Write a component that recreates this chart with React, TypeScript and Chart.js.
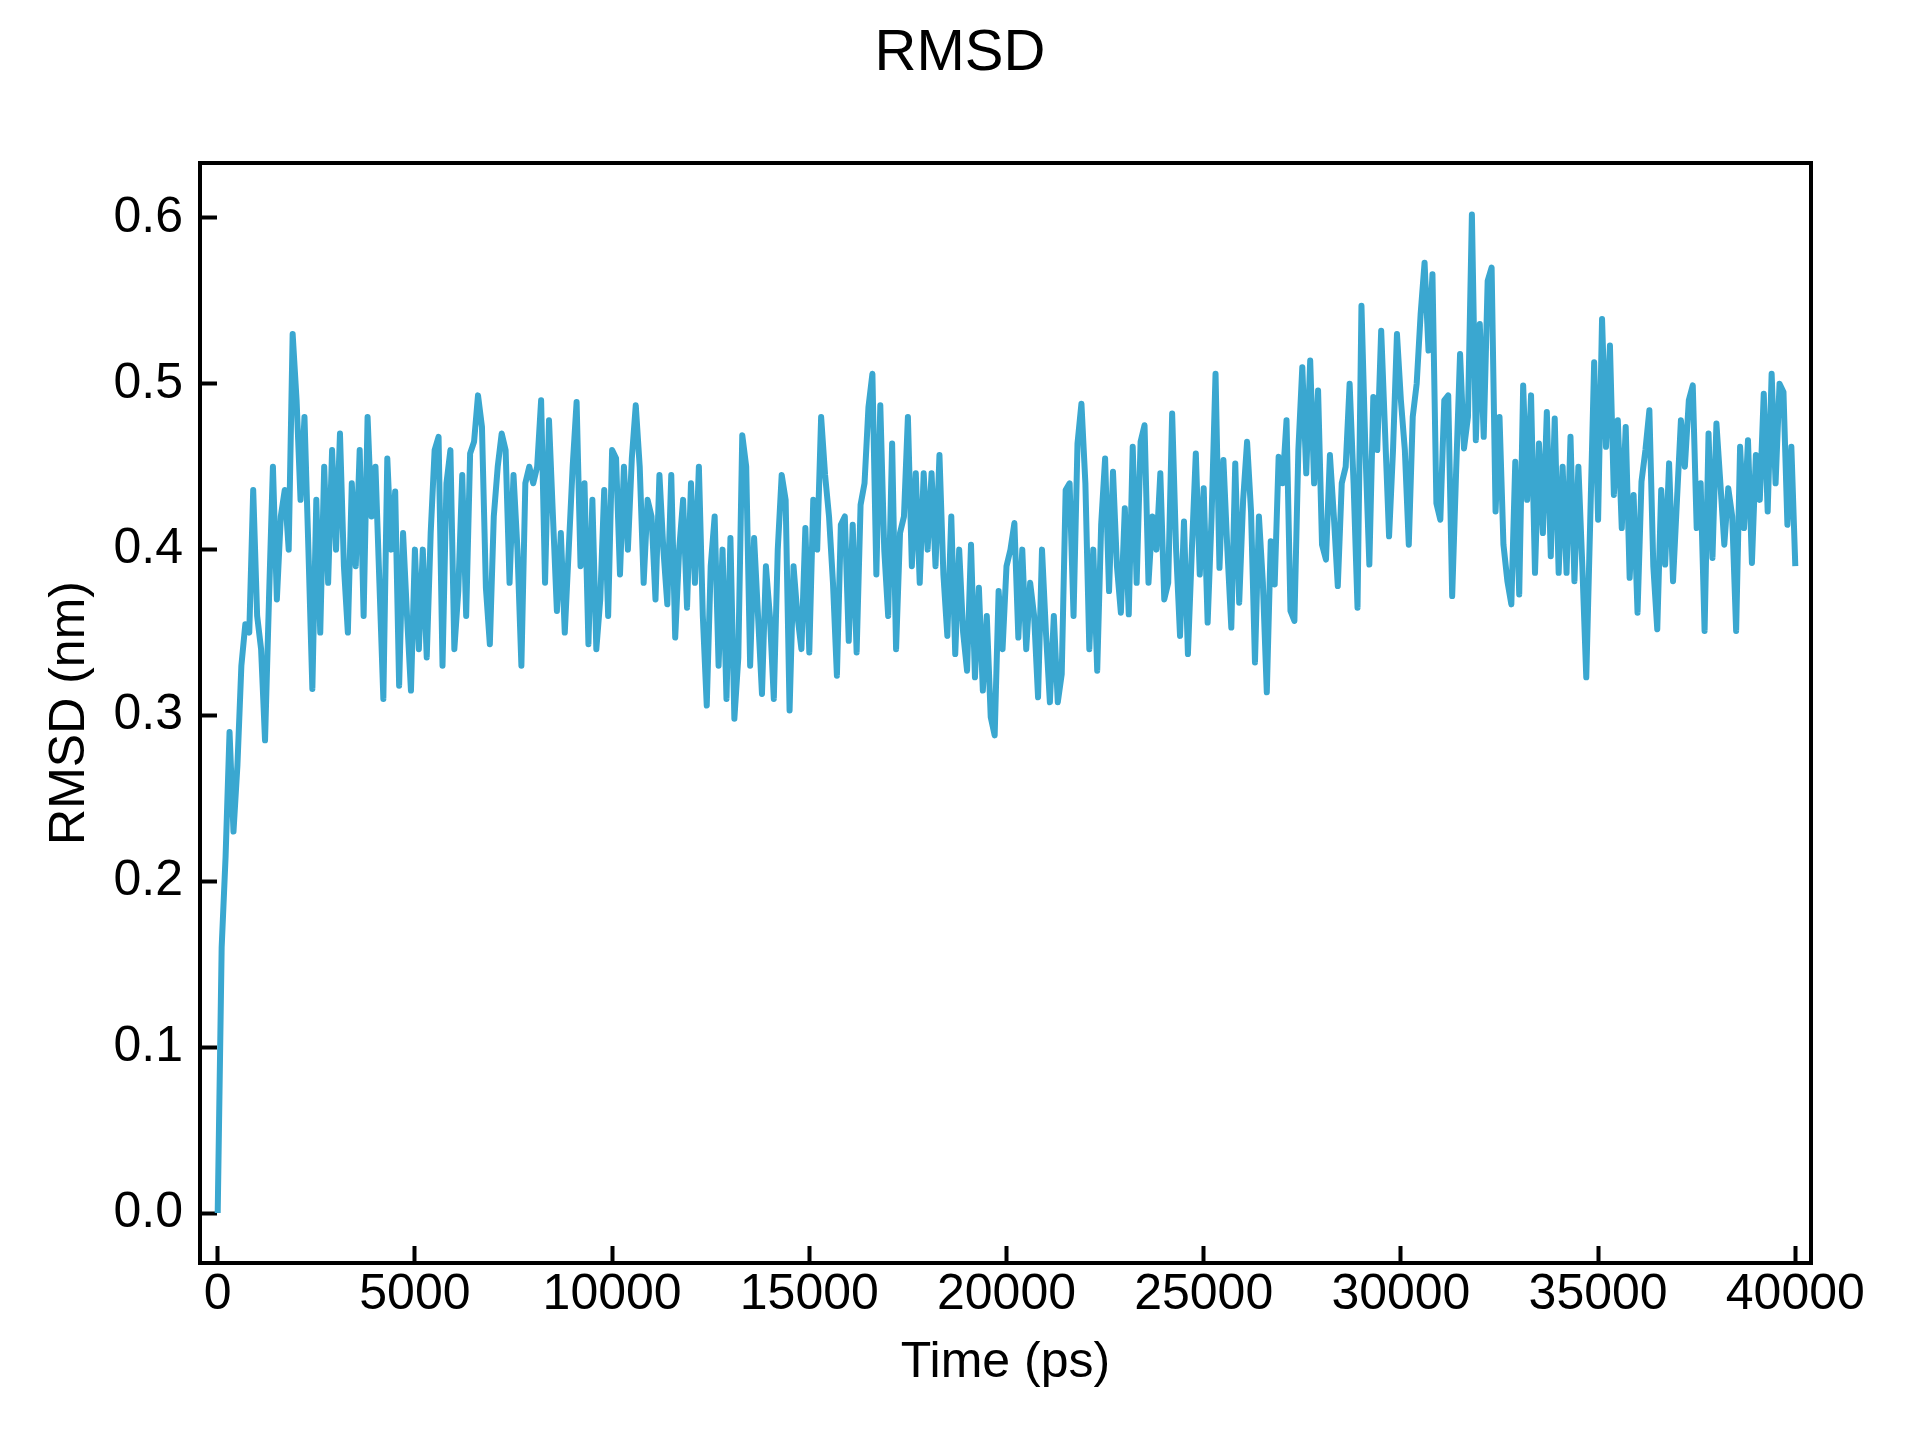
import React, { useEffect, useRef } from "react";
import { Chart, registerables } from "chart.js";

Chart.register(...registerables);

// Sampling interval of the trajectory (ps)
const TIME_STEP_PS = 100;

// RMSD values (nm), one every 100 ps from 0 to 40000 ps
const RMSD_0_7900 = [
  0.0, 0.16, 0.215, 0.29, 0.23, 0.27, 0.33, 0.355, 0.35, 0.436,
  0.36, 0.34, 0.285, 0.37, 0.45, 0.37, 0.42, 0.436, 0.40, 0.53,
  0.49, 0.43, 0.48, 0.40, 0.316, 0.43, 0.35, 0.45, 0.38, 0.46,
  0.40, 0.47, 0.39, 0.35, 0.44, 0.39, 0.46, 0.36, 0.48, 0.42,
  0.45, 0.38, 0.31, 0.455, 0.40, 0.435, 0.318, 0.41, 0.36, 0.315,
  0.40, 0.34, 0.40, 0.335, 0.41, 0.46, 0.468, 0.33, 0.44, 0.46,
  0.34, 0.375, 0.445, 0.36, 0.458, 0.465, 0.493, 0.474, 0.377, 0.343,
  0.42, 0.45, 0.47, 0.46, 0.38, 0.445, 0.40, 0.33, 0.44, 0.45,
];
const RMSD_8000_16000 = [
  0.44, 0.45, 0.49, 0.38, 0.478, 0.42, 0.363, 0.41, 0.35, 0.40,
  0.45, 0.489, 0.39, 0.44, 0.343, 0.43, 0.34, 0.37, 0.436, 0.36,
  0.46, 0.455, 0.385, 0.45, 0.40, 0.455, 0.487, 0.45, 0.38, 0.43,
  0.42, 0.37, 0.445, 0.40, 0.367, 0.445, 0.347, 0.40, 0.43, 0.365,
  0.44, 0.38, 0.45, 0.36, 0.306, 0.39, 0.42, 0.33, 0.40, 0.31,
  0.407, 0.298, 0.335, 0.469, 0.45, 0.33, 0.407, 0.36, 0.313, 0.39,
  0.36, 0.31, 0.40, 0.445, 0.43, 0.303, 0.39, 0.36, 0.34, 0.413,
  0.338, 0.43, 0.40, 0.48, 0.445, 0.42, 0.38, 0.324, 0.415, 0.42,
  0.345,
];
const RMSD_16100_24000 = [
  0.415, 0.338, 0.427, 0.44, 0.486, 0.506, 0.385, 0.487, 0.40, 0.36,
  0.464, 0.34, 0.41, 0.42, 0.48, 0.39, 0.446, 0.38, 0.446, 0.40,
  0.446, 0.39, 0.457, 0.385, 0.348, 0.42, 0.337, 0.40, 0.35, 0.327,
  0.403, 0.323, 0.377, 0.315, 0.36, 0.299, 0.288, 0.375, 0.34, 0.39,
  0.40, 0.416, 0.347, 0.40, 0.34, 0.38, 0.36, 0.311, 0.40, 0.35,
  0.308, 0.36, 0.308, 0.325, 0.436, 0.44, 0.36, 0.464, 0.488, 0.44,
  0.34, 0.40, 0.327, 0.415, 0.455, 0.375, 0.447, 0.39, 0.362, 0.425,
  0.361, 0.462, 0.38, 0.465, 0.475, 0.38, 0.42, 0.40, 0.446, 0.37,
];
const RMSD_24100_32000 = [
  0.38, 0.482, 0.40, 0.348, 0.417, 0.337, 0.40, 0.458, 0.385, 0.437,
  0.356, 0.42, 0.506, 0.389, 0.454, 0.40, 0.353, 0.452, 0.368, 0.43,
  0.465, 0.423, 0.332, 0.42, 0.38, 0.314, 0.405, 0.379, 0.456, 0.44,
  0.478, 0.363, 0.357, 0.46, 0.51, 0.446, 0.514, 0.44, 0.496, 0.403,
  0.394, 0.457, 0.42, 0.378, 0.44, 0.45, 0.50, 0.44, 0.365, 0.547,
  0.46, 0.391, 0.492, 0.46, 0.532, 0.47, 0.408, 0.46, 0.53, 0.49,
  0.46, 0.403, 0.48, 0.50, 0.542, 0.573, 0.52, 0.566, 0.428, 0.418,
  0.49, 0.493, 0.372, 0.447, 0.518, 0.461, 0.48, 0.602, 0.466, 0.536,
];
const RMSD_32100_40000 = [
  0.468, 0.562, 0.57, 0.423, 0.48, 0.403, 0.381, 0.367, 0.453, 0.373,
  0.499, 0.43, 0.493, 0.386, 0.464, 0.41, 0.483, 0.396, 0.479, 0.386,
  0.45, 0.386, 0.468, 0.381, 0.45, 0.39, 0.323, 0.417, 0.513, 0.418,
  0.539, 0.462, 0.523, 0.433, 0.478, 0.413, 0.474, 0.383, 0.433, 0.362,
  0.441, 0.46, 0.484, 0.39, 0.352, 0.436, 0.391, 0.452, 0.381, 0.43,
  0.478, 0.45, 0.49, 0.499, 0.413, 0.44, 0.351, 0.47, 0.395, 0.476,
  0.44, 0.403, 0.437, 0.42, 0.351, 0.462, 0.413, 0.466, 0.392, 0.457,
  0.43, 0.494, 0.423, 0.506, 0.44, 0.5, 0.495, 0.415, 0.462, 0.39,
];

const RMSD_NM = [
  ...RMSD_0_7900,
  ...RMSD_8000_16000,
  ...RMSD_16100_24000,
  ...RMSD_24100_32000,
  ...RMSD_32100_40000,
];
const TIME_PS = RMSD_NM.map((_, i) => i * TIME_STEP_PS);

const TITLE = "RMSD";
const X_LABEL = "Time (ps)";
const Y_LABEL = "RMSD (nm)";
const X_TICKS = [0, 5000, 10000, 15000, 20000, 25000, 30000, 35000, 40000];
const Y_TICKS = [0.0, 0.1, 0.2, 0.3, 0.4, 0.5, 0.6];

const FONT = "'Liberation Sans', Arial, Helvetica, sans-serif";
const LINE_COLOR = "#3aa7d0";

const framePlugin = {
  id: "frame",
  afterDraw(chart: any) {
    const { ctx, chartArea } = chart;
    const { left, right, top, bottom } = chartArea;
    ctx.save();
    ctx.strokeStyle = "#000";
    ctx.lineWidth = 4;
    ctx.lineCap = "square";
    ctx.beginPath();
    ctx.moveTo(left, top);
    ctx.lineTo(right, top);
    ctx.lineTo(right, bottom);
    ctx.stroke();
    ctx.restore();
  },
};

export default function App() {
  const canvasRef = useRef<HTMLCanvasElement | null>(null);

  useEffect(() => {
    const canvas = canvasRef.current;
    if (!canvas) return;
    const titleLine = 58 * 1.2;
    const chart = new Chart(canvas, {
      type: "line",
      data: {
        datasets: [
          {
            data: TIME_PS.map((t, i) => ({ x: t, y: RMSD_NM[i] })),
            borderColor: LINE_COLOR,
            backgroundColor: LINE_COLOR,
            borderWidth: 6,
            pointRadius: 0,
            tension: 0,
            borderJoinStyle: "round",
            borderCapStyle: "butt",
            fill: false,
            xAxisID: "x",
            yAxisID: "y",
          },
        ],
      },
      options: {
        responsive: false,
        animation: false,
        devicePixelRatio: 1,
        events: [],
        layout: { padding: 0 },
        plugins: {
          legend: { display: false },
          tooltip: { enabled: false },
          title: {
            display: true,
            text: TITLE,
            color: "#000",
            font: { family: FONT, size: 58, weight: "normal", lineHeight: 1.2 },
            padding: { top: 19, bottom: 163 - 19 - titleLine },
          },
        },
        scales: {
          x: {
            type: "linear",
            position: "bottom",
            min: -449,
            max: 40398,
            afterFit: (scale: any) => {
              scale.height = 177;
            },
            afterBuildTicks: (scale: any) => {
              scale.ticks = X_TICKS.map((v) => ({ value: v }));
            },
            ticks: {
              color: "#000",
              font: { family: FONT, size: 50 },
              padding: 19,
              maxRotation: 0,
              minRotation: 0,
              autoSkip: false,
              callback: (v: any) => String(Math.round(Number(v))),
            },
            grid: {
              drawOnChartArea: false,
              drawTicks: true,
              tickLength: -17,
              tickWidth: 4,
              tickColor: "#000",
            },
            border: { display: true, color: "#000", width: 4 },
            title: {
              display: true,
              text: X_LABEL,
              color: "#000",
              font: { family: FONT, size: 50, weight: "normal" },
              padding: { top: 0, bottom: 47 },
            },
          },
          y: {
            type: "linear",
            position: "left",
            min: -0.0301,
            max: 0.6331,
            afterFit: (scale: any) => {
              scale.width = 200;
            },
            afterBuildTicks: (scale: any) => {
              scale.ticks = Y_TICKS.map((v) => ({ value: v }));
            },
            ticks: {
              color: "#000",
              font: { family: FONT, size: 50 },
              padding: 34,
              autoSkip: false,
              callback: (v: any) => Number(v).toFixed(1),
            },
            grid: {
              drawOnChartArea: false,
              drawTicks: true,
              tickLength: -17,
              tickWidth: 4,
              tickColor: "#000",
            },
            border: { display: true, color: "#000", width: 4 },
            title: {
              display: true,
              text: Y_LABEL,
              color: "#000",
              font: { family: FONT, size: 50, weight: "normal" },
              padding: { top: 40, bottom: 0 },
            },
          },
          yRight: {
            type: "linear",
            position: "right",
            min: 0,
            max: 1,
            afterFit: (scale: any) => {
              scale.width = 109;
            },
            ticks: { display: false },
            grid: { display: false, drawTicks: false },
            border: { display: false },
            title: { display: false },
          },
        },
      },
      plugins: [framePlugin],
    } as any);
    return () => chart.destroy();
  }, []);

  return (
    <div
      style={{
        position: "absolute",
        left: 0,
        top: 0,
        width: 1920,
        height: 1440,
        background: "#fff",
      }}
    >
      <canvas
        ref={canvasRef}
        width={1920}
        height={1440}
        style={{ display: "block", width: 1920, height: 1440 }}
      />
    </div>
  );
}
